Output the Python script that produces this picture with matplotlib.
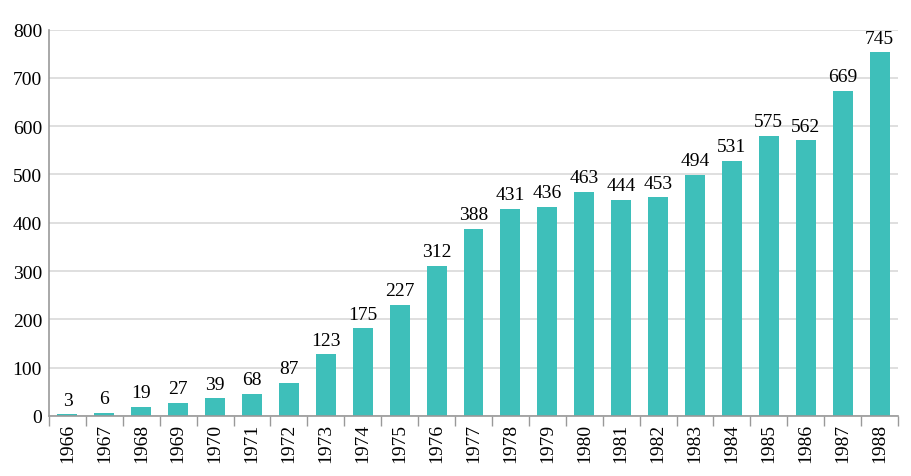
import numpy as np
import matplotlib.pyplot as plt
plt.rc('font', family='Liberation Serif')

years = [str(y) for y in range(1966, 1989)]
# bar heights as drawn
heights = [4, 7, 19, 27, 37, 46, 69, 128, 182, 230, 311, 387, 429, 433,
           464, 447, 453, 499, 528, 580, 571, 673, 753]
# printed labels above the bars
labels = [3, 6, 19, 27, 39, 68, 87, 123, 175, 227, 312, 388, 431, 436,
          463, 444, 453, 494, 531, 575, 562, 669, 745]

fig = plt.figure(figsize=(9.12, 4.77), dpi=100)
ax = fig.add_axes([49/912, 1 - 417/477, (898 - 49)/912, (417 - 30.5)/477])

x = np.arange(len(years))
ax.bar(x, heights, width=0.54, color='#3ebfba', zorder=2)
for xi, h, lab in zip(x, heights, labels):
    ax.annotate(str(lab), (xi, h), xytext=(0, 4), textcoords='offset points',
                ha='center', va='bottom', fontsize=14)

ax.set_xlim(-0.5, len(years) - 0.5)
ax.set_ylim(0, 800)
ax.set_yticks(range(0, 801, 100))
ax.yaxis.grid(True, color='#d9d9d9', linewidth=1.2, zorder=0)
ax.set_axisbelow(True)

ax.set_xticks(x)
ax.set_xticklabels(years, rotation=90, fontsize=14)
ax.set_xticks(np.arange(-0.5, len(years)), minor=True)
ax.tick_params(axis='x', which='major', length=0, pad=5)
ax.tick_params(axis='x', which='minor', length=7, color='#999999', width=1)
ax.tick_params(axis='y', length=0, labelsize=14, pad=5)

for s in ['top', 'right']:
    ax.spines[s].set_visible(False)
for s in ['left', 'bottom']:
    ax.spines[s].set_color('#999999')
    ax.spines[s].set_linewidth(1.2)

fig.savefig('out.png', dpi=100)
